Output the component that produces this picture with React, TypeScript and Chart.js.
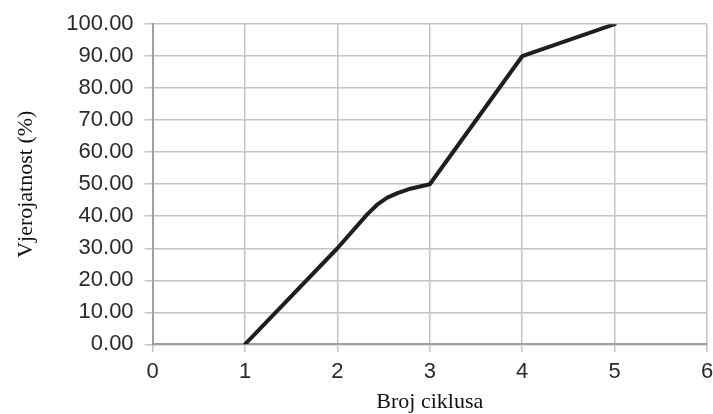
import React, { useEffect, useRef } from "react";
import { Chart, registerables } from "chart.js";

Chart.register(...registerables);

const cycles = [1, 2, 2.32, 2.43, 2.54, 2.65, 2.79, 3, 4, 5];
const probability = [0, 30, 40.5, 43.6, 45.8, 47.2, 48.6, 50, 90, 100];
const xTicks = [0, 1, 2, 3, 4, 5, 6];
const yTicks = [0, 10, 20, 30, 40, 50, 60, 70, 80, 90, 100];
const xTitle = "Broj ciklusa";
const yTitle = "Vjerojatnost (%)";

export default function App() {
  const ref = useRef<HTMLCanvasElement>(null);
  useEffect(() => {
    document.body.style.margin = "0";
    const ctx = ref.current!;
    const tickFont = { family: "'Liberation Sans', Arial, sans-serif", size: 22 };
    const titleFont = { family: "'Liberation Serif', 'Times New Roman', serif", size: 22, lineHeight: 1.06 };
    const chart = new Chart(ctx, {
      type: "line",
      data: {
        datasets: [
          {
            data: cycles.map((x, i) => ({ x, y: probability[i] })),
            borderColor: "#1e1e1e",
            borderWidth: 4,
            borderJoinStyle: "round",
            borderCapStyle: "round",
            pointRadius: 0,
            tension: 0,
            fill: false,
          },
        ],
      },
      options: {
        animation: false,
        responsive: false,
        devicePixelRatio: 1,
        layout: { padding: { top: 9, right: 0, left: 15, bottom: 0 } },
        plugins: { legend: { display: false }, tooltip: { enabled: false } },
        scales: {
          x: {
            type: "linear",
            min: 0,
            max: 6,
            afterBuildTicks: (axis: any) => {
              axis.ticks = xTicks.map((v) => ({ value: v }));
            },
            afterFit: (axis: any) => {
              axis.paddingRight = 6;
            },
            ticks: { font: tickFont, color: "#2a2a2a", padding: 6, callback: (v: any) => String(v) },
            grid: { color: "#c4c4c4", lineWidth: 1.5, tickLength: 8, drawTicks: true },
            border: { color: "#a0a0a0", width: 2 },
            title: { display: true, text: xTitle, font: titleFont, color: "#111", padding: { top: 0, bottom: 0 } },
          },
          y: {
            type: "linear",
            min: 0,
            max: 100,
            afterBuildTicks: (axis: any) => {
              axis.ticks = yTicks.map((v) => ({ value: v }));
            },
            ticks: { font: tickFont, color: "#2a2a2a", padding: 11, callback: (v: any) => Number(v).toFixed(2) },
            grid: { color: "#c4c4c4", lineWidth: 1.5, tickLength: 8, drawTicks: true },
            border: { color: "#a0a0a0", width: 2 },
            title: { display: true, text: yTitle, font: titleFont, color: "#111", padding: { top: 0, bottom: 17 } },
          },
        },
      },
    });
    return () => chart.destroy();
  }, []);
  return (
    <div style={{ width: 713, height: 414 }}>
      <canvas ref={ref} width={713} height={414} style={{ display: "block" }} />
    </div>
  );
}
